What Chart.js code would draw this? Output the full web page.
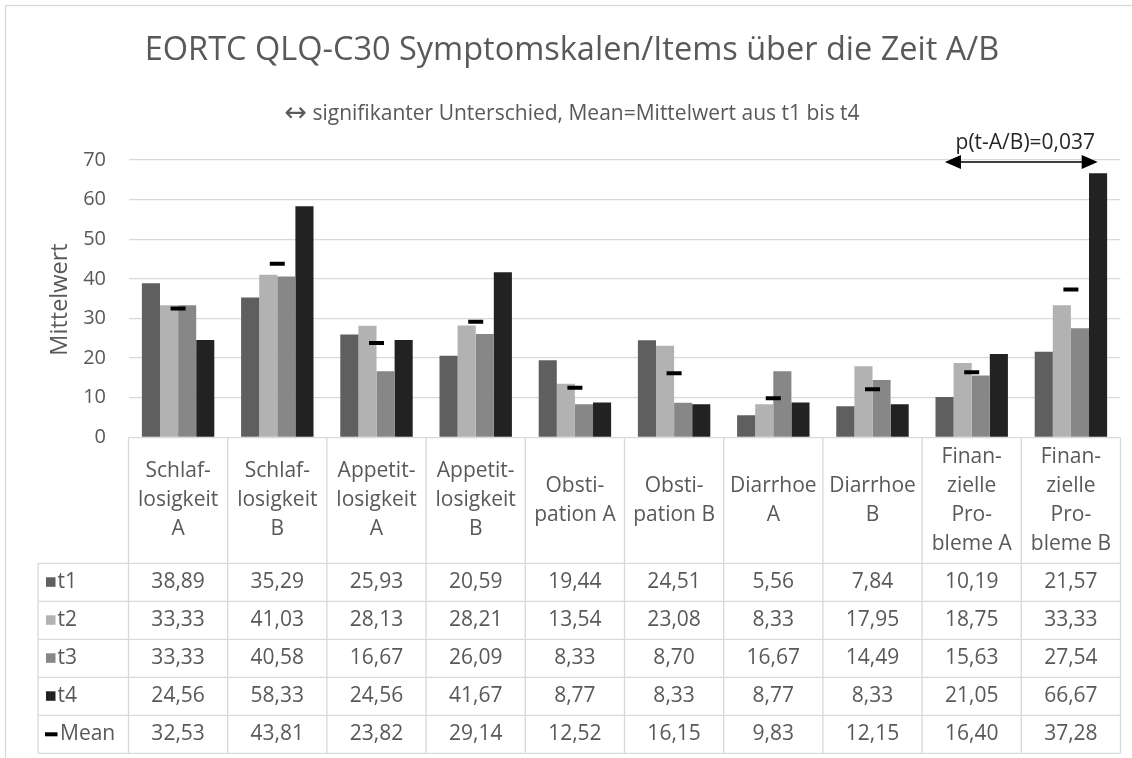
<!DOCTYPE html>
<html>
<head>
<meta charset="utf-8">
<title>EORTC QLQ-C30 Symptomskalen</title>
<script src="https://cdn.jsdelivr.net/npm/chart.js@4.4.1/dist/chart.umd.min.js"></script>
<style>
  body { margin: 0; background: #fff; }
  canvas { display: block; }
</style>
</head>
<body>
<canvas id="chart" width="1132" height="758"></canvas>
<script>
// categories (line breaks as in the data table header)
const categories = [
  ["Schlaf-", "losigkeit", "A"],
  ["Schlaf-", "losigkeit", "B"],
  ["Appetit-", "losigkeit", "A"],
  ["Appetit-", "losigkeit", "B"],
  ["Obsti-", "pation A"],
  ["Obsti-", "pation B"],
  ["Diarrhoe", "A"],
  ["Diarrhoe", "B"],
  ["Finan-", "zielle", "Pro-", "bleme A"],
  ["Finan-", "zielle", "Pro-", "bleme B"]
];

const t1 = [38.89, 35.29, 25.93, 20.59, 19.44, 24.51, 5.56, 7.84, 10.19, 21.57];
const t2 = [33.33, 41.03, 28.13, 28.21, 13.54, 23.08, 8.33, 17.95, 18.75, 33.33];
const t3 = [33.33, 40.58, 16.67, 26.09, 8.33, 8.70, 16.67, 14.49, 15.63, 27.54];
const t4 = [24.56, 58.33, 24.56, 41.67, 8.77, 8.33, 8.77, 8.33, 21.05, 66.67];
const mean = [32.53, 43.81, 23.82, 29.14, 12.52, 16.15, 9.83, 12.15, 16.40, 37.28];

const seriesNames = ["t1", "t2", "t3", "t4"];
const seriesColors = ["#5f5f5f", "#b2b2b2", "#878787", "#222222"];

const titleText = "EORTC QLQ-C30 Symptomskalen/Items über die Zeit A/B";
const subtitleArrow = "\u2194";
const subtitleText = " signifikanter Unterschied, Mean=Mittelwert aus t1 bis t4";
const yTitle = "Mittelwert";

// significance annotation between two categories
const sigText = "p(t-A/B)=0,037";
const sigFrom = 8;
const sigTo = 9;
const sigLevel = 69.5;

const textColor = "#595959";
const lineColor = "#d9d9d9";
const font = "'Open Sans', 'DejaVu Sans', sans-serif";

function fmt(v) {
  return v.toFixed(2).replace(".", ",");
}

// Arrow for the significance marker
const arrowPlugin = {
  id: "sigArrow",
  afterDatasetsDraw(chart) {
    const ctx = chart.ctx;
    const xs = chart.scales.x;
    const ys = chart.scales.y;
    const colW = (chart.chartArea.right - chart.chartArea.left) / categories.length;
    const x1 = xs.getPixelForValue(sigFrom) - 0.27 * colW;
    const x2 = xs.getPixelForValue(sigTo) + 0.27 * colW;
    const y = ys.getPixelForValue(sigLevel);

    ctx.save();
    ctx.strokeStyle = "#000";
    ctx.fillStyle = "#000";
    ctx.lineWidth = 1.5;
    ctx.beginPath();
    ctx.moveTo(x1 + 10, y);
    ctx.lineTo(x2 - 10, y);
    ctx.stroke();
    // heads
    ctx.beginPath();
    ctx.moveTo(x1, y);
    ctx.lineTo(x1 + 16, y - 7);
    ctx.lineTo(x1 + 16, y + 7);
    ctx.closePath();
    ctx.fill();
    ctx.beginPath();
    ctx.moveTo(x2, y);
    ctx.lineTo(x2 - 16, y - 7);
    ctx.lineTo(x2 - 16, y + 7);
    ctx.closePath();
    ctx.fill();

    ctx.font = "21px " + font;
    ctx.fillStyle = "#262626";
    ctx.textAlign = "center";
    ctx.textBaseline = "alphabetic";
    ctx.fillText(sigText, (x1 + x2) / 2 + 4, y - 13);
    ctx.restore();
  }
};

// Titles, y axis title, data table and outer border
const tablePlugin = {
  id: "dataTable",
  afterDraw(chart) {
    const ctx = chart.ctx;
    const area = chart.chartArea;
    const xs = chart.scales.x;
    const ys = chart.scales.y;
    const colW = (area.right - area.left) / categories.length;
    const top = ys.getPixelForValue(0);
    const headerH = 126;
    const rowH = 38;
    const legendLeft = 38;
    const headerBottom = top + headerH;

    const rows = seriesNames.map((name, i) => ({
      name: name,
      values: [t1, t2, t3, t4][i],
      color: seriesColors[i]
    }));
    rows.push({ name: "Mean", values: mean, isMean: true });
    const bottom = headerBottom + rows.length * rowH;

    ctx.save();

    // outer border
    ctx.strokeStyle = lineColor;
    ctx.lineWidth = 1.3;
    ctx.strokeRect(5.5, 5.5, 2000, 2000);

    // title
    ctx.fillStyle = textColor;
    ctx.textAlign = "center";
    ctx.textBaseline = "alphabetic";
    ctx.font = "32.5px " + font;
    ctx.fillText(titleText, 572, 60);

    // subtitle: arrow glyph a bit larger, like the original
    const arrowFont = "27px 'DejaVu Sans', sans-serif";
    const subFont = "21px " + font;
    ctx.font = arrowFont;
    const wArrow = ctx.measureText(subtitleArrow).width;
    ctx.font = subFont;
    const wSub = ctx.measureText(subtitleText).width;
    let sx = 572 - (wArrow + wSub) / 2;
    ctx.textAlign = "left";
    ctx.font = arrowFont;
    ctx.fillText(subtitleArrow, sx, 121);
    ctx.font = subFont;
    ctx.fillText(subtitleText, sx + wArrow, 120);
    ctx.textAlign = "center";

    // y axis title
    ctx.save();
    ctx.translate(67, 299.5);
    ctx.rotate(-Math.PI / 2);
    ctx.font = "23.5px " + font;
    ctx.fillText(yTitle, 0, 0);
    ctx.restore();

    // table grid
    ctx.strokeStyle = lineColor;
    ctx.lineWidth = 1.3;
    ctx.beginPath();
    for (let i = 0; i <= categories.length; i++) {
      const x = area.left + i * colW;
      ctx.moveTo(x, top);
      ctx.lineTo(x, bottom);
    }
    ctx.moveTo(legendLeft, headerBottom);
    ctx.lineTo(legendLeft, bottom);
    for (let r = 0; r <= rows.length; r++) {
      const y = headerBottom + r * rowH;
      ctx.moveTo(legendLeft, y);
      ctx.lineTo(area.right, y);
    }
    ctx.stroke();

    // header labels
    ctx.fillStyle = textColor;
    ctx.font = "21px " + font;
    ctx.textAlign = "center";
    ctx.textBaseline = "middle";
    const headerMid = top + headerH / 2;
    const lineH = 29;
    categories.forEach((lines, i) => {
      const cx = xs.getPixelForValue(i);
      lines.forEach((line, j) => {
        const y = headerMid + (j - (lines.length - 1) / 2) * lineH;
        ctx.fillText(line, cx, y);
      });
    });

    // rows
    rows.forEach((row, r) => {
      const cy = headerBottom + r * rowH + rowH / 2;
      // legend key
      if (row.isMean) {
        ctx.fillStyle = "#000";
        ctx.fillRect(45, cy - 2, 12.5, 4);
      } else {
        ctx.fillStyle = row.color;
        ctx.fillRect(46, cy - 5, 9.5, 9.5);
      }
      ctx.fillStyle = textColor;
      ctx.textAlign = "left";
      ctx.fillText(row.name, row.isMean ? 60 : 57.5, cy);
      ctx.textAlign = "center";
      row.values.forEach((v, i) => {
        ctx.fillText(fmt(v), xs.getPixelForValue(i), cy);
      });
    });

    ctx.restore();
  }
};

const datasets = seriesNames.map((name, i) => ({
  type: "bar",
  label: name,
  data: [t1, t2, t3, t4][i],
  backgroundColor: seriesColors[i],
  borderWidth: 0,
  categoryPercentage: 0.73,
  barPercentage: 1.0,
  order: 2
}));

datasets.push({
  type: "line",
  label: "Mean",
  data: mean,
  showLine: false,
  pointStyle: "line",
  pointRadius: 7.5,
  pointHoverRadius: 7.5,
  pointBorderWidth: 4,
  pointBorderColor: "#000",
  borderColor: "#000",
  order: 1
});

new Chart(document.getElementById("chart"), {
  data: {
    labels: categories.map(c => c.join(" ")),
    datasets: datasets
  },
  options: {
    responsive: false,
    animation: false,
    layout: {
      padding: { top: 160, bottom: 320.7, left: 0, right: 0.5 }
    },
    plugins: {
      legend: { display: false },
      tooltip: { enabled: false },
      title: { display: false }
    },
    scales: {
      x: {
        display: false
      },
      y: {
        min: 0,
        max: 70,
        afterFit(scale) {
          scale.width = 128.5;
        },
        ticks: {
          stepSize: 10,
          padding: 22.5,
          color: textColor,
          font: { family: font, size: 20 }
        },
        grid: {
          color: lineColor,
          lineWidth: 1.3,
          drawTicks: false
        },
        border: { display: false }
      }
    }
  },
  plugins: [arrowPlugin, tablePlugin]
});
</script>
</body>
</html>
